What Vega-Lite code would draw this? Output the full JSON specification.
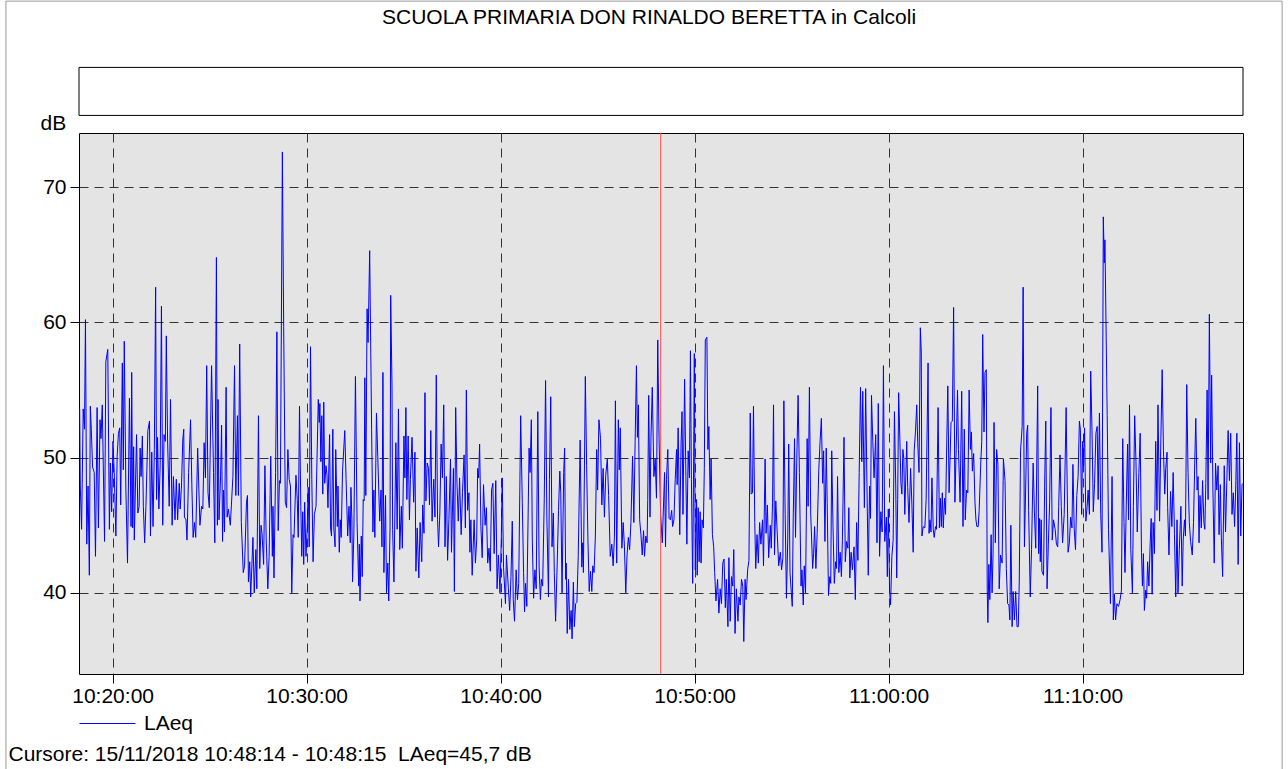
{
"$schema": "https://vega.github.io/schema/vega-lite/v6.json",
"width": 1164, "height": 541,
"autosize": {"type": "none"},
"padding": {"left": 79, "top": 133, "right": 45, "bottom": 95},
"background": "#ffffff",
"config": {"font": "Liberation Sans", "view": {"fill": "#e4e4e4", "stroke": "#000000", "strokeWidth": 1}},
"data": {"values": [
{"t":"2018-11-15T10:18:18","v":53.6},{"t":"2018-11-15T10:18:20","v":47.9},{"t":"2018-11-15T10:18:24","v":44.7},{"t":"2018-11-15T10:18:29","v":53.6},{"t":"2018-11-15T10:18:33","v":52.1},{"t":"2018-11-15T10:18:36","v":60.2},{"t":"2018-11-15T10:18:40","v":43.6},{"t":"2018-11-15T10:18:44","v":47.9},{"t":"2018-11-15T10:18:48","v":41.3},{"t":"2018-11-15T10:18:51","v":53.8},{"t":"2018-11-15T10:18:54","v":52.1},{"t":"2018-11-15T10:18:58","v":49.3},{"t":"2018-11-15T10:19:03","v":48.9},{"t":"2018-11-15T10:19:07","v":42.7},{"t":"2018-11-15T10:19:12","v":53.7},{"t":"2018-11-15T10:19:16","v":44.8},{"t":"2018-11-15T10:19:21","v":52.8},{"t":"2018-11-15T10:19:24","v":51.4},{"t":"2018-11-15T10:19:28","v":53.9},{"t":"2018-11-15T10:19:35","v":43.8},{"t":"2018-11-15T10:19:39","v":57.1},{"t":"2018-11-15T10:19:45","v":58.0},{"t":"2018-11-15T10:19:50","v":44.7},{"t":"2018-11-15T10:19:53","v":49.6},{"t":"2018-11-15T10:19:57","v":46.0},{"t":"2018-11-15T10:20:01","v":51.2},{"t":"2018-11-15T10:20:05","v":48.9},{"t":"2018-11-15T10:20:10","v":44.2},{"t":"2018-11-15T10:20:14","v":50.1},{"t":"2018-11-15T10:20:18","v":51.8},{"t":"2018-11-15T10:20:22","v":52.2},{"t":"2018-11-15T10:20:25","v":46.5},{"t":"2018-11-15T10:20:30","v":57.0},{"t":"2018-11-15T10:20:33","v":49.1},{"t":"2018-11-15T10:20:36","v":58.6},{"t":"2018-11-15T10:20:41","v":47.6},{"t":"2018-11-15T10:20:46","v":42.2},{"t":"2018-11-15T10:20:52","v":54.4},{"t":"2018-11-15T10:20:57","v":44.9},{"t":"2018-11-15T10:20:59","v":56.3},{"t":"2018-11-15T10:21:02","v":44.8},{"t":"2018-11-15T10:21:05","v":50.8},{"t":"2018-11-15T10:21:07","v":43.9},{"t":"2018-11-15T10:21:14","v":51.7},{"t":"2018-11-15T10:21:18","v":45.9},{"t":"2018-11-15T10:21:22","v":46.4},{"t":"2018-11-15T10:21:25","v":50.7},{"t":"2018-11-15T10:21:28","v":48.6},{"t":"2018-11-15T10:21:32","v":51.6},{"t":"2018-11-15T10:21:35","v":46.4},{"t":"2018-11-15T10:21:39","v":43.7},{"t":"2018-11-15T10:21:43","v":46.4},{"t":"2018-11-15T10:21:49","v":52.0},{"t":"2018-11-15T10:21:54","v":52.7},{"t":"2018-11-15T10:21:57","v":44.2},{"t":"2018-11-15T10:22:01","v":50.4},{"t":"2018-11-15T10:22:05","v":44.9},{"t":"2018-11-15T10:22:09","v":50.6},{"t":"2018-11-15T10:22:13","v":62.6},{"t":"2018-11-15T10:22:16","v":46.9},{"t":"2018-11-15T10:22:19","v":51.5},{"t":"2018-11-15T10:22:23","v":46.2},{"t":"2018-11-15T10:22:27","v":49.4},{"t":"2018-11-15T10:22:31","v":61.2},{"t":"2018-11-15T10:22:35","v":45.0},{"t":"2018-11-15T10:22:39","v":51.7},{"t":"2018-11-15T10:22:43","v":51.2},{"t":"2018-11-15T10:22:46","v":59.0},{"t":"2018-11-15T10:22:50","v":51.3},{"t":"2018-11-15T10:22:55","v":46.4},{"t":"2018-11-15T10:22:59","v":54.3},{"t":"2018-11-15T10:23:04","v":45.0},{"t":"2018-11-15T10:23:08","v":48.6},{"t":"2018-11-15T10:23:13","v":45.4},{"t":"2018-11-15T10:23:17","v":48.4},{"t":"2018-11-15T10:23:21","v":45.4},{"t":"2018-11-15T10:23:26","v":48.1},{"t":"2018-11-15T10:23:29","v":46.2},{"t":"2018-11-15T10:23:33","v":47.9},{"t":"2018-11-15T10:23:37","v":51.3},{"t":"2018-11-15T10:23:40","v":52.1},{"t":"2018-11-15T10:23:42","v":45.6},{"t":"2018-11-15T10:23:47","v":45.4},{"t":"2018-11-15T10:23:50","v":43.9},{"t":"2018-11-15T10:23:55","v":48.9},{"t":"2018-11-15T10:24:01","v":52.8},{"t":"2018-11-15T10:24:05","v":48.0},{"t":"2018-11-15T10:24:09","v":44.1},{"t":"2018-11-15T10:24:13","v":45.2},{"t":"2018-11-15T10:24:17","v":44.1},{"t":"2018-11-15T10:24:23","v":50.7},
{"t":"2018-11-15T10:24:30","v":45.0},{"t":"2018-11-15T10:24:35","v":46.4},{"t":"2018-11-15T10:24:39","v":46.2},{"t":"2018-11-15T10:24:43","v":51.1},{"t":"2018-11-15T10:24:47","v":48.5},{"t":"2018-11-15T10:24:51","v":56.8},{"t":"2018-11-15T10:24:55","v":47.4},{"t":"2018-11-15T10:24:59","v":46.3},{"t":"2018-11-15T10:25:06","v":56.8},{"t":"2018-11-15T10:25:12","v":48.9},{"t":"2018-11-15T10:25:16","v":43.7},{"t":"2018-11-15T10:25:21","v":64.8},{"t":"2018-11-15T10:25:24","v":45.0},{"t":"2018-11-15T10:25:26","v":54.3},{"t":"2018-11-15T10:25:29","v":45.4},{"t":"2018-11-15T10:25:34","v":48.7},{"t":"2018-11-15T10:25:37","v":52.4},{"t":"2018-11-15T10:25:40","v":43.8},{"t":"2018-11-15T10:25:43","v":47.6},{"t":"2018-11-15T10:25:46","v":44.5},{"t":"2018-11-15T10:25:51","v":55.2},{"t":"2018-11-15T10:25:54","v":45.6},{"t":"2018-11-15T10:25:58","v":46.2},{"t":"2018-11-15T10:26:04","v":45.0},{"t":"2018-11-15T10:26:08","v":46.8},{"t":"2018-11-15T10:26:12","v":48.6},{"t":"2018-11-15T10:26:17","v":56.8},{"t":"2018-11-15T10:26:21","v":47.2},{"t":"2018-11-15T10:26:26","v":53.1},{"t":"2018-11-15T10:26:29","v":47.2},{"t":"2018-11-15T10:26:33","v":58.4},{"t":"2018-11-15T10:26:38","v":45.2},{"t":"2018-11-15T10:26:44","v":41.5},{"t":"2018-11-15T10:26:48","v":42.0},{"t":"2018-11-15T10:26:54","v":46.7},{"t":"2018-11-15T10:26:57","v":47.2},{"t":"2018-11-15T10:27:00","v":40.8},{"t":"2018-11-15T10:27:04","v":42.3},{"t":"2018-11-15T10:27:07","v":39.7},{"t":"2018-11-15T10:27:14","v":44.1},{"t":"2018-11-15T10:27:18","v":40.0},{"t":"2018-11-15T10:27:23","v":43.2},{"t":"2018-11-15T10:27:26","v":40.3},{"t":"2018-11-15T10:27:31","v":53.1},{"t":"2018-11-15T10:27:35","v":41.8},{"t":"2018-11-15T10:27:39","v":45.0},{"t":"2018-11-15T10:27:42","v":44.4},{"t":"2018-11-15T10:27:47","v":42.1},{"t":"2018-11-15T10:27:51","v":49.4},{"t":"2018-11-15T10:27:55","v":43.9},{"t":"2018-11-15T10:28:00","v":40.3},{"t":"2018-11-15T10:28:04","v":42.7},{"t":"2018-11-15T10:28:09","v":50.1},{"t":"2018-11-15T10:28:14","v":42.7},{"t":"2018-11-15T10:28:16","v":46.4},{"t":"2018-11-15T10:28:19","v":41.1},{"t":"2018-11-15T10:28:24","v":48.9},{"t":"2018-11-15T10:28:28","v":59.3},{"t":"2018-11-15T10:28:32","v":44.6},{"t":"2018-11-15T10:28:36","v":48.3},{"t":"2018-11-15T10:28:39","v":48.1},{"t":"2018-11-15T10:28:45","v":72.6},{"t":"2018-11-15T10:28:49","v":59.7},{"t":"2018-11-15T10:28:54","v":46.7},{"t":"2018-11-15T10:28:58","v":46.3},{"t":"2018-11-15T10:29:02","v":50.6},{"t":"2018-11-15T10:29:06","v":48.4},{"t":"2018-11-15T10:29:10","v":47.9},{"t":"2018-11-15T10:29:14","v":40.0},{"t":"2018-11-15T10:29:18","v":44.3},{"t":"2018-11-15T10:29:21","v":44.1},{"t":"2018-11-15T10:29:27","v":48.7},{"t":"2018-11-15T10:29:31","v":46.9},{"t":"2018-11-15T10:29:34","v":44.1},{"t":"2018-11-15T10:29:38","v":53.8},{"t":"2018-11-15T10:29:42","v":46.4},{"t":"2018-11-15T10:29:45","v":42.7},{"t":"2018-11-15T10:29:48","v":46.0},{"t":"2018-11-15T10:29:51","v":42.1},{"t":"2018-11-15T10:29:54","v":46.7},{"t":"2018-11-15T10:29:58","v":42.7},{"t":"2018-11-15T10:30:02","v":44.9},{"t":"2018-11-15T10:30:05","v":47.8},{"t":"2018-11-15T10:30:08","v":43.4},{"t":"2018-11-15T10:30:12","v":58.2},{"t":"2018-11-15T10:30:16","v":48.4},{"t":"2018-11-15T10:30:20","v":42.3},{"t":"2018-11-15T10:30:24","v":45.8},
{"t":"2018-11-15T10:30:29","v":46.4},{"t":"2018-11-15T10:30:36","v":54.3},{"t":"2018-11-15T10:30:39","v":52.6},{"t":"2018-11-15T10:30:41","v":54.0},{"t":"2018-11-15T10:30:44","v":49.7},{"t":"2018-11-15T10:30:47","v":53.1},{"t":"2018-11-15T10:30:50","v":47.3},{"t":"2018-11-15T10:30:53","v":54.1},{"t":"2018-11-15T10:30:56","v":48.1},{"t":"2018-11-15T10:31:00","v":49.4},{"t":"2018-11-15T10:31:03","v":48.7},{"t":"2018-11-15T10:31:06","v":46.3},{"t":"2018-11-15T10:31:11","v":51.7},{"t":"2018-11-15T10:31:14","v":44.8},{"t":"2018-11-15T10:31:17","v":44.2},{"t":"2018-11-15T10:31:21","v":52.1},{"t":"2018-11-15T10:31:24","v":44.8},{"t":"2018-11-15T10:31:28","v":43.4},{"t":"2018-11-15T10:31:30","v":50.6},{"t":"2018-11-15T10:31:35","v":44.9},{"t":"2018-11-15T10:31:37","v":47.9},{"t":"2018-11-15T10:31:41","v":43.0},{"t":"2018-11-15T10:31:44","v":45.4},{"t":"2018-11-15T10:31:47","v":44.1},{"t":"2018-11-15T10:31:51","v":49.0},{"t":"2018-11-15T10:31:58","v":52.0},{"t":"2018-11-15T10:32:02","v":48.4},{"t":"2018-11-15T10:32:07","v":44.2},{"t":"2018-11-15T10:32:11","v":46.4},{"t":"2018-11-15T10:32:15","v":43.7},{"t":"2018-11-15T10:32:17","v":47.8},{"t":"2018-11-15T10:32:20","v":45.4},{"t":"2018-11-15T10:32:22","v":40.8},{"t":"2018-11-15T10:32:26","v":44.2},{"t":"2018-11-15T10:32:31","v":56.0},{"t":"2018-11-15T10:32:36","v":45.2},{"t":"2018-11-15T10:32:41","v":40.5},{"t":"2018-11-15T10:32:43","v":43.6},{"t":"2018-11-15T10:32:45","v":39.4},{"t":"2018-11-15T10:32:49","v":44.2},{"t":"2018-11-15T10:32:52","v":41.2},{"t":"2018-11-15T10:32:55","v":46.9},{"t":"2018-11-15T10:32:58","v":46.8},{"t":"2018-11-15T10:33:00","v":55.9},{"t":"2018-11-15T10:33:03","v":47.2},{"t":"2018-11-15T10:33:07","v":61.0},{"t":"2018-11-15T10:33:10","v":58.5},{"t":"2018-11-15T10:33:15","v":65.3},{"t":"2018-11-15T10:33:21","v":52.1},{"t":"2018-11-15T10:33:25","v":44.5},{"t":"2018-11-15T10:33:28","v":47.6},{"t":"2018-11-15T10:33:31","v":44.1},{"t":"2018-11-15T10:33:36","v":53.3},{"t":"2018-11-15T10:33:40","v":50.1},{"t":"2018-11-15T10:33:46","v":45.3},{"t":"2018-11-15T10:33:50","v":47.6},{"t":"2018-11-15T10:33:53","v":43.4},{"t":"2018-11-15T10:33:56","v":56.3},{"t":"2018-11-15T10:33:59","v":41.5},{"t":"2018-11-15T10:34:04","v":47.2},{"t":"2018-11-15T10:34:07","v":40.0},{"t":"2018-11-15T10:34:11","v":42.2},{"t":"2018-11-15T10:34:14","v":39.4},{"t":"2018-11-15T10:34:18","v":44.9},{"t":"2018-11-15T10:34:20","v":62.0},{"t":"2018-11-15T10:34:24","v":55.3},{"t":"2018-11-15T10:34:26","v":44.7},{"t":"2018-11-15T10:34:30","v":40.8},{"t":"2018-11-15T10:34:36","v":51.1},{"t":"2018-11-15T10:34:40","v":44.7},{"t":"2018-11-15T10:34:44","v":53.6},{"t":"2018-11-15T10:34:48","v":43.2},{"t":"2018-11-15T10:34:53","v":46.4},{"t":"2018-11-15T10:34:56","v":43.3},{"t":"2018-11-15T10:35:01","v":51.6},{"t":"2018-11-15T10:35:04","v":48.5},{"t":"2018-11-15T10:35:07","v":53.7},{"t":"2018-11-15T10:35:10","v":46.9},{"t":"2018-11-15T10:35:14","v":51.6},{"t":"2018-11-15T10:35:18","v":45.4},{"t":"2018-11-15T10:35:21","v":48.4},{"t":"2018-11-15T10:35:26","v":51.5},{"t":"2018-11-15T10:35:31","v":46.7},{"t":"2018-11-15T10:35:35","v":50.4},{"t":"2018-11-15T10:35:38","v":41.6},{"t":"2018-11-15T10:35:42","v":44.8},{"t":"2018-11-15T10:35:47","v":41.1},{"t":"2018-11-15T10:35:51","v":45.2},{"t":"2018-11-15T10:35:56","v":42.3},{"t":"2018-11-15T10:35:59","v":46.5},{"t":"2018-11-15T10:36:03","v":44.4},{"t":"2018-11-15T10:36:06","v":54.8},{"t":"2018-11-15T10:36:09","v":46.8},{"t":"2018-11-15T10:36:13","v":49.6},{"t":"2018-11-15T10:36:17","v":49.2},{"t":"2018-11-15T10:36:20","v":46.5},{"t":"2018-11-15T10:36:24","v":52.0},
{"t":"2018-11-15T10:36:28","v":45.3},{"t":"2018-11-15T10:36:33","v":48.4},{"t":"2018-11-15T10:36:37","v":45.6},{"t":"2018-11-15T10:36:41","v":56.1},{"t":"2018-11-15T10:36:45","v":45.4},{"t":"2018-11-15T10:36:48","v":43.4},{"t":"2018-11-15T10:36:52","v":45.9},{"t":"2018-11-15T10:36:56","v":51.0},{"t":"2018-11-15T10:37:00","v":48.5},{"t":"2018-11-15T10:37:04","v":53.9},{"t":"2018-11-15T10:37:08","v":43.4},{"t":"2018-11-15T10:37:12","v":48.6},{"t":"2018-11-15T10:37:16","v":42.4},{"t":"2018-11-15T10:37:20","v":45.4},{"t":"2018-11-15T10:37:25","v":49.9},{"t":"2018-11-15T10:37:28","v":43.0},{"t":"2018-11-15T10:37:34","v":49.2},{"t":"2018-11-15T10:37:37","v":40.1},{"t":"2018-11-15T10:37:41","v":53.7},{"t":"2018-11-15T10:37:45","v":48.1},{"t":"2018-11-15T10:37:49","v":45.3},{"t":"2018-11-15T10:37:53","v":48.5},{"t":"2018-11-15T10:37:58","v":44.3},{"t":"2018-11-15T10:38:02","v":47.4},{"t":"2018-11-15T10:38:07","v":50.2},{"t":"2018-11-15T10:38:11","v":44.8},{"t":"2018-11-15T10:38:14","v":55.0},{"t":"2018-11-15T10:38:18","v":46.1},{"t":"2018-11-15T10:38:22","v":47.4},{"t":"2018-11-15T10:38:25","v":43.0},{"t":"2018-11-15T10:38:28","v":45.4},{"t":"2018-11-15T10:38:32","v":41.3},{"t":"2018-11-15T10:38:38","v":45.4},{"t":"2018-11-15T10:38:42","v":42.2},{"t":"2018-11-15T10:38:46","v":43.9},{"t":"2018-11-15T10:38:49","v":49.2},{"t":"2018-11-15T10:38:52","v":48.5},{"t":"2018-11-15T10:38:55","v":51.0},{"t":"2018-11-15T10:38:59","v":44.9},{"t":"2018-11-15T10:39:03","v":42.6},{"t":"2018-11-15T10:39:07","v":48.0},{"t":"2018-11-15T10:39:12","v":45.0},{"t":"2018-11-15T10:39:16","v":46.3},{"t":"2018-11-15T10:39:20","v":42.2},{"t":"2018-11-15T10:39:24","v":43.3},{"t":"2018-11-15T10:39:28","v":41.6},{"t":"2018-11-15T10:39:32","v":47.6},{"t":"2018-11-15T10:39:36","v":48.1},{"t":"2018-11-15T10:39:40","v":42.9},{"t":"2018-11-15T10:39:45","v":48.3},{"t":"2018-11-15T10:39:49","v":40.3},{"t":"2018-11-15T10:39:53","v":42.8},{"t":"2018-11-15T10:39:58","v":40.0},{"t":"2018-11-15T10:40:02","v":43.9},{"t":"2018-11-15T10:40:05","v":48.5},{"t":"2018-11-15T10:40:09","v":41.9},{"t":"2018-11-15T10:40:15","v":39.2},{"t":"2018-11-15T10:40:18","v":42.8},{"t":"2018-11-15T10:40:24","v":40.3},{"t":"2018-11-15T10:40:28","v":38.7},{"t":"2018-11-15T10:40:32","v":41.2},{"t":"2018-11-15T10:40:36","v":45.3},{"t":"2018-11-15T10:40:39","v":39.5},{"t":"2018-11-15T10:40:43","v":37.9},{"t":"2018-11-15T10:40:48","v":41.7},{"t":"2018-11-15T10:40:52","v":39.5},{"t":"2018-11-15T10:40:56","v":40.7},{"t":"2018-11-15T10:41:02","v":53.1},{"t":"2018-11-15T10:41:07","v":46.7},{"t":"2018-11-15T10:41:11","v":41.5},{"t":"2018-11-15T10:41:14","v":38.6},{"t":"2018-11-15T10:41:17","v":40.7},{"t":"2018-11-15T10:41:21","v":39.0},{"t":"2018-11-15T10:41:28","v":50.7},{"t":"2018-11-15T10:41:31","v":48.9},{"t":"2018-11-15T10:41:35","v":52.8},{"t":"2018-11-15T10:41:38","v":43.9},{"t":"2018-11-15T10:41:42","v":39.6},{"t":"2018-11-15T10:41:46","v":41.7},{"t":"2018-11-15T10:41:50","v":40.3},{"t":"2018-11-15T10:41:55","v":53.4},{"t":"2018-11-15T10:41:59","v":41.9},{"t":"2018-11-15T10:42:03","v":39.5},{"t":"2018-11-15T10:42:06","v":41.0},{"t":"2018-11-15T10:42:10","v":40.5},{"t":"2018-11-15T10:42:15","v":47.0},{"t":"2018-11-15T10:42:19","v":55.7},{"t":"2018-11-15T10:42:23","v":45.6},
{"t":"2018-11-15T10:42:28","v":39.7},{"t":"2018-11-15T10:42:31","v":48.4},{"t":"2018-11-15T10:42:35","v":54.5},{"t":"2018-11-15T10:42:39","v":43.4},{"t":"2018-11-15T10:42:43","v":45.9},{"t":"2018-11-15T10:42:46","v":41.5},{"t":"2018-11-15T10:42:50","v":37.9},{"t":"2018-11-15T10:42:55","v":42.2},{"t":"2018-11-15T10:42:59","v":46.1},{"t":"2018-11-15T10:43:03","v":49.0},{"t":"2018-11-15T10:43:06","v":47.4},{"t":"2018-11-15T10:43:10","v":40.0},{"t":"2018-11-15T10:43:15","v":48.9},{"t":"2018-11-15T10:43:18","v":50.7},{"t":"2018-11-15T10:43:21","v":41.0},{"t":"2018-11-15T10:43:23","v":42.2},{"t":"2018-11-15T10:43:26","v":37.0},{"t":"2018-11-15T10:43:30","v":41.0},{"t":"2018-11-15T10:43:34","v":37.3},{"t":"2018-11-15T10:43:38","v":38.7},{"t":"2018-11-15T10:43:41","v":36.6},{"t":"2018-11-15T10:43:45","v":40.8},{"t":"2018-11-15T10:43:48","v":37.5},{"t":"2018-11-15T10:43:52","v":39.2},{"t":"2018-11-15T10:43:56","v":39.3},{"t":"2018-11-15T10:44:00","v":42.7},{"t":"2018-11-15T10:44:06","v":51.3},{"t":"2018-11-15T10:44:11","v":41.9},{"t":"2018-11-15T10:44:14","v":43.7},{"t":"2018-11-15T10:44:16","v":41.5},{"t":"2018-11-15T10:44:22","v":56.0},{"t":"2018-11-15T10:44:26","v":49.4},{"t":"2018-11-15T10:44:30","v":43.9},{"t":"2018-11-15T10:44:34","v":40.1},{"t":"2018-11-15T10:44:38","v":41.6},{"t":"2018-11-15T10:44:42","v":40.1},{"t":"2018-11-15T10:44:45","v":42.0},{"t":"2018-11-15T10:44:49","v":41.5},{"t":"2018-11-15T10:44:53","v":44.2},{"t":"2018-11-15T10:44:57","v":50.6},{"t":"2018-11-15T10:45:00","v":47.6},{"t":"2018-11-15T10:45:04","v":52.8},{"t":"2018-11-15T10:45:09","v":51.4},{"t":"2018-11-15T10:45:13","v":46.5},{"t":"2018-11-15T10:45:17","v":49.2},{"t":"2018-11-15T10:45:21","v":45.6},{"t":"2018-11-15T10:45:25","v":48.7},{"t":"2018-11-15T10:45:30","v":49.9},{"t":"2018-11-15T10:45:34","v":47.2},{"t":"2018-11-15T10:45:39","v":42.7},{"t":"2018-11-15T10:45:44","v":43.6},{"t":"2018-11-15T10:45:48","v":42.0},{"t":"2018-11-15T10:45:52","v":44.2},{"t":"2018-11-15T10:45:55","v":54.2},{"t":"2018-11-15T10:45:59","v":42.2},{"t":"2018-11-15T10:46:04","v":52.8},{"t":"2018-11-15T10:46:07","v":49.1},{"t":"2018-11-15T10:46:10","v":52.2},{"t":"2018-11-15T10:46:15","v":43.3},{"t":"2018-11-15T10:46:19","v":45.2},{"t":"2018-11-15T10:46:23","v":43.4},{"t":"2018-11-15T10:46:27","v":40.0},{"t":"2018-11-15T10:46:31","v":42.8},{"t":"2018-11-15T10:46:35","v":44.1},{"t":"2018-11-15T10:46:39","v":43.2},{"t":"2018-11-15T10:46:43","v":45.2},{"t":"2018-11-15T10:46:48","v":50.1},{"t":"2018-11-15T10:46:52","v":45.2},{"t":"2018-11-15T10:46:56","v":51.2},{"t":"2018-11-15T10:47:00","v":56.8},{"t":"2018-11-15T10:47:03","v":51.5},{"t":"2018-11-15T10:47:06","v":53.9},{"t":"2018-11-15T10:47:10","v":45.4},{"t":"2018-11-15T10:47:14","v":44.3},{"t":"2018-11-15T10:47:18","v":42.8},{"t":"2018-11-15T10:47:22","v":44.6},{"t":"2018-11-15T10:47:25","v":42.7},{"t":"2018-11-15T10:47:29","v":44.2},{"t":"2018-11-15T10:47:33","v":43.7},{"t":"2018-11-15T10:47:35","v":46.9},{"t":"2018-11-15T10:47:38","v":54.6},{"t":"2018-11-15T10:47:42","v":45.6},{"t":"2018-11-15T10:47:45","v":51.5},{"t":"2018-11-15T10:47:49","v":55.2},{"t":"2018-11-15T10:47:54","v":48.6},{"t":"2018-11-15T10:47:58","v":49.9},{"t":"2018-11-15T10:48:02","v":47.0},{"t":"2018-11-15T10:48:06","v":58.7},{"t":"2018-11-15T10:48:10","v":51.4},{"t":"2018-11-15T10:48:15","v":45.7},{"t":"2018-11-15T10:48:20","v":43.7},
{"t":"2018-11-15T10:48:27","v":48.9},{"t":"2018-11-15T10:48:30","v":43.4},{"t":"2018-11-15T10:48:33","v":48.4},{"t":"2018-11-15T10:48:37","v":50.6},{"t":"2018-11-15T10:48:41","v":45.5},{"t":"2018-11-15T10:48:45","v":45.4},{"t":"2018-11-15T10:48:49","v":46.1},{"t":"2018-11-15T10:48:52","v":44.9},{"t":"2018-11-15T10:48:56","v":45.4},{"t":"2018-11-15T10:49:00","v":48.4},{"t":"2018-11-15T10:49:04","v":50.6},{"t":"2018-11-15T10:49:06","v":48.0},{"t":"2018-11-15T10:49:09","v":52.2},{"t":"2018-11-15T10:49:14","v":44.3},{"t":"2018-11-15T10:49:18","v":51.0},{"t":"2018-11-15T10:49:21","v":53.4},{"t":"2018-11-15T10:49:24","v":45.8},{"t":"2018-11-15T10:49:29","v":55.8},{"t":"2018-11-15T10:49:33","v":48.6},{"t":"2018-11-15T10:49:36","v":43.6},{"t":"2018-11-15T10:49:40","v":50.5},{"t":"2018-11-15T10:49:44","v":48.5},{"t":"2018-11-15T10:49:47","v":57.9},{"t":"2018-11-15T10:49:50","v":48.4},{"t":"2018-11-15T10:49:54","v":40.7},{"t":"2018-11-15T10:49:57","v":50.1},{"t":"2018-11-15T10:49:59","v":57.7},{"t":"2018-11-15T10:50:02","v":41.7},{"t":"2018-11-15T10:50:06","v":46.9},{"t":"2018-11-15T10:50:08","v":41.3},{"t":"2018-11-15T10:50:11","v":46.3},{"t":"2018-11-15T10:50:14","v":42.3},{"t":"2018-11-15T10:50:17","v":46.0},{"t":"2018-11-15T10:50:20","v":42.2},{"t":"2018-11-15T10:50:23","v":45.4},{"t":"2018-11-15T10:50:27","v":44.8},{"t":"2018-11-15T10:50:30","v":49.2},{"t":"2018-11-15T10:50:33","v":58.7},{"t":"2018-11-15T10:50:38","v":58.9},{"t":"2018-11-15T10:50:41","v":50.6},{"t":"2018-11-15T10:50:44","v":52.3},{"t":"2018-11-15T10:50:48","v":46.9},{"t":"2018-11-15T10:50:51","v":49.9},{"t":"2018-11-15T10:50:55","v":44.3},{"t":"2018-11-15T10:50:59","v":43.4},{"t":"2018-11-15T10:51:02","v":41.5},{"t":"2018-11-15T10:51:06","v":39.4},{"t":"2018-11-15T10:51:11","v":41.0},{"t":"2018-11-15T10:51:15","v":38.5},{"t":"2018-11-15T10:51:19","v":40.3},{"t":"2018-11-15T10:51:23","v":39.2},{"t":"2018-11-15T10:51:27","v":42.2},{"t":"2018-11-15T10:51:31","v":42.5},{"t":"2018-11-15T10:51:35","v":38.9},{"t":"2018-11-15T10:51:38","v":41.0},{"t":"2018-11-15T10:51:43","v":37.5},{"t":"2018-11-15T10:51:46","v":42.6},{"t":"2018-11-15T10:51:50","v":37.9},{"t":"2018-11-15T10:51:54","v":41.2},{"t":"2018-11-15T10:51:58","v":40.5},{"t":"2018-11-15T10:52:01","v":43.2},{"t":"2018-11-15T10:52:05","v":37.0},{"t":"2018-11-15T10:52:09","v":40.3},{"t":"2018-11-15T10:52:14","v":37.9},{"t":"2018-11-15T10:52:17","v":39.7},{"t":"2018-11-15T10:52:21","v":39.1},{"t":"2018-11-15T10:52:25","v":41.0},{"t":"2018-11-15T10:52:29","v":40.5},{"t":"2018-11-15T10:52:32","v":36.4},{"t":"2018-11-15T10:52:36","v":41.0},{"t":"2018-11-15T10:52:39","v":39.5},{"t":"2018-11-15T10:52:44","v":41.7},{"t":"2018-11-15T10:52:48","v":42.4},{"t":"2018-11-15T10:52:52","v":53.3},{"t":"2018-11-15T10:52:55","v":47.3},{"t":"2018-11-15T10:52:59","v":47.4},{"t":"2018-11-15T10:53:02","v":53.8},{"t":"2018-11-15T10:53:06","v":45.2},{"t":"2018-11-15T10:53:09","v":41.8},{"t":"2018-11-15T10:53:13","v":44.3},{"t":"2018-11-15T10:53:17","v":42.2},{"t":"2018-11-15T10:53:21","v":45.2},{"t":"2018-11-15T10:53:25","v":43.6},{"t":"2018-11-15T10:53:30","v":45.4},{"t":"2018-11-15T10:53:33","v":42.0},{"t":"2018-11-15T10:53:38","v":49.9},{"t":"2018-11-15T10:53:41","v":44.4},{"t":"2018-11-15T10:53:45","v":46.5},{"t":"2018-11-15T10:53:49","v":42.6},{"t":"2018-11-15T10:53:54","v":45.0},{"t":"2018-11-15T10:53:57","v":43.3},{"t":"2018-11-15T10:54:01","v":46.7},{"t":"2018-11-15T10:54:04","v":53.9},{"t":"2018-11-15T10:54:07","v":42.8},{"t":"2018-11-15T10:54:11","v":46.8},
{"t":"2018-11-15T10:54:20","v":42.0},{"t":"2018-11-15T10:54:25","v":43.0},{"t":"2018-11-15T10:54:29","v":41.7},{"t":"2018-11-15T10:54:33","v":42.6},{"t":"2018-11-15T10:54:36","v":54.2},{"t":"2018-11-15T10:54:40","v":45.8},{"t":"2018-11-15T10:54:44","v":39.6},{"t":"2018-11-15T10:54:48","v":43.9},{"t":"2018-11-15T10:54:51","v":51.0},{"t":"2018-11-15T10:54:55","v":41.5},{"t":"2018-11-15T10:54:59","v":40.0},{"t":"2018-11-15T10:55:02","v":39.0},{"t":"2018-11-15T10:55:05","v":45.6},{"t":"2018-11-15T10:55:09","v":51.4},{"t":"2018-11-15T10:55:12","v":44.1},{"t":"2018-11-15T10:55:16","v":49.9},{"t":"2018-11-15T10:55:20","v":54.6},{"t":"2018-11-15T10:55:24","v":48.9},{"t":"2018-11-15T10:55:29","v":40.5},{"t":"2018-11-15T10:55:32","v":41.7},{"t":"2018-11-15T10:55:36","v":39.1},{"t":"2018-11-15T10:55:39","v":42.0},{"t":"2018-11-15T10:55:43","v":40.0},{"t":"2018-11-15T10:55:48","v":51.4},{"t":"2018-11-15T10:55:51","v":46.4},{"t":"2018-11-15T10:55:55","v":55.2},{"t":"2018-11-15T10:55:59","v":45.9},{"t":"2018-11-15T10:56:05","v":41.8},{"t":"2018-11-15T10:56:08","v":42.9},{"t":"2018-11-15T10:56:11","v":44.9},{"t":"2018-11-15T10:56:15","v":41.8},{"t":"2018-11-15T10:56:19","v":44.4},{"t":"2018-11-15T10:56:24","v":49.1},{"t":"2018-11-15T10:56:28","v":51.2},{"t":"2018-11-15T10:56:32","v":52.9},{"t":"2018-11-15T10:56:36","v":48.1},{"t":"2018-11-15T10:56:39","v":50.5},{"t":"2018-11-15T10:56:43","v":43.8},{"t":"2018-11-15T10:56:47","v":50.7},{"t":"2018-11-15T10:56:50","v":46.7},{"t":"2018-11-15T10:56:54","v":39.8},{"t":"2018-11-15T10:56:58","v":41.2},{"t":"2018-11-15T10:57:01","v":40.7},{"t":"2018-11-15T10:57:04","v":50.5},{"t":"2018-11-15T10:57:08","v":44.9},{"t":"2018-11-15T10:57:12","v":40.7},{"t":"2018-11-15T10:57:16","v":42.3},{"t":"2018-11-15T10:57:19","v":41.8},{"t":"2018-11-15T10:57:22","v":48.6},{"t":"2018-11-15T10:57:26","v":41.5},{"t":"2018-11-15T10:57:30","v":43.0},{"t":"2018-11-15T10:57:34","v":41.2},{"t":"2018-11-15T10:57:37","v":43.9},{"t":"2018-11-15T10:57:42","v":51.5},{"t":"2018-11-15T10:57:46","v":42.3},{"t":"2018-11-15T10:57:50","v":43.8},{"t":"2018-11-15T10:57:54","v":43.3},{"t":"2018-11-15T10:57:57","v":46.3},{"t":"2018-11-15T10:58:00","v":41.1},{"t":"2018-11-15T10:58:04","v":43.0},{"t":"2018-11-15T10:58:08","v":41.7},{"t":"2018-11-15T10:58:13","v":43.4},{"t":"2018-11-15T10:58:17","v":39.5},{"t":"2018-11-15T10:58:21","v":45.2},{"t":"2018-11-15T10:58:25","v":42.4},{"t":"2018-11-15T10:58:29","v":48.9},{"t":"2018-11-15T10:58:33","v":55.2},{"t":"2018-11-15T10:58:37","v":49.7},{"t":"2018-11-15T10:58:40","v":54.9},{"t":"2018-11-15T10:58:45","v":46.3},{"t":"2018-11-15T10:58:49","v":55.1},{"t":"2018-11-15T10:58:53","v":47.9},{"t":"2018-11-15T10:58:57","v":41.3},{"t":"2018-11-15T10:59:01","v":47.9},{"t":"2018-11-15T10:59:04","v":45.5},{"t":"2018-11-15T10:59:07","v":54.6},{"t":"2018-11-15T10:59:11","v":51.2},{"t":"2018-11-15T10:59:15","v":48.5},{"t":"2018-11-15T10:59:20","v":51.7},{"t":"2018-11-15T10:59:24","v":43.7},{"t":"2018-11-15T10:59:28","v":54.0},{"t":"2018-11-15T10:59:32","v":42.7},{"t":"2018-11-15T10:59:36","v":46.0},{"t":"2018-11-15T10:59:40","v":44.5},{"t":"2018-11-15T10:59:44","v":56.8},{"t":"2018-11-15T10:59:48","v":43.8},{"t":"2018-11-15T10:59:53","v":45.6},{"t":"2018-11-15T10:59:56","v":41.2},{"t":"2018-11-15T10:59:59","v":46.2},{"t":"2018-11-15T11:00:03","v":40.1},{"t":"2018-11-15T11:00:06","v":39.1},{"t":"2018-11-15T11:00:10","v":42.7},{"t":"2018-11-15T11:00:14","v":43.9},{"t":"2018-11-15T11:00:18","v":53.4},
{"t":"2018-11-15T11:00:22","v":47.9},{"t":"2018-11-15T11:00:25","v":41.1},{"t":"2018-11-15T11:00:28","v":46.9},{"t":"2018-11-15T11:00:31","v":54.8},{"t":"2018-11-15T11:00:35","v":51.1},{"t":"2018-11-15T11:00:38","v":48.1},{"t":"2018-11-15T11:00:41","v":47.3},{"t":"2018-11-15T11:00:44","v":50.6},{"t":"2018-11-15T11:00:47","v":49.9},{"t":"2018-11-15T11:00:50","v":45.8},{"t":"2018-11-15T11:00:56","v":51.2},{"t":"2018-11-15T11:00:59","v":47.8},{"t":"2018-11-15T11:01:03","v":45.2},{"t":"2018-11-15T11:01:08","v":49.2},{"t":"2018-11-15T11:01:12","v":46.5},{"t":"2018-11-15T11:01:16","v":43.0},{"t":"2018-11-15T11:01:19","v":50.5},{"t":"2018-11-15T11:01:23","v":51.9},{"t":"2018-11-15T11:01:27","v":53.9},{"t":"2018-11-15T11:01:30","v":51.1},{"t":"2018-11-15T11:01:34","v":48.9},{"t":"2018-11-15T11:01:38","v":59.6},{"t":"2018-11-15T11:01:41","v":57.8},{"t":"2018-11-15T11:01:43","v":44.2},{"t":"2018-11-15T11:01:47","v":44.9},{"t":"2018-11-15T11:01:52","v":44.8},{"t":"2018-11-15T11:01:56","v":46.9},{"t":"2018-11-15T11:02:02","v":57.0},{"t":"2018-11-15T11:02:05","v":44.4},{"t":"2018-11-15T11:02:08","v":45.4},{"t":"2018-11-15T11:02:11","v":44.5},{"t":"2018-11-15T11:02:14","v":48.5},{"t":"2018-11-15T11:02:18","v":44.7},{"t":"2018-11-15T11:02:21","v":44.1},{"t":"2018-11-15T11:02:25","v":44.9},{"t":"2018-11-15T11:02:28","v":44.7},{"t":"2018-11-15T11:02:33","v":53.7},{"t":"2018-11-15T11:02:37","v":44.8},{"t":"2018-11-15T11:02:40","v":47.0},{"t":"2018-11-15T11:02:43","v":44.9},{"t":"2018-11-15T11:02:46","v":47.4},{"t":"2018-11-15T11:02:49","v":44.8},{"t":"2018-11-15T11:02:53","v":47.0},{"t":"2018-11-15T11:02:56","v":45.8},{"t":"2018-11-15T11:03:00","v":51.4},{"t":"2018-11-15T11:03:03","v":55.3},{"t":"2018-11-15T11:03:07","v":47.4},{"t":"2018-11-15T11:03:10","v":49.9},{"t":"2018-11-15T11:03:13","v":52.6},{"t":"2018-11-15T11:03:17","v":52.7},{"t":"2018-11-15T11:03:21","v":61.1},{"t":"2018-11-15T11:03:25","v":46.7},{"t":"2018-11-15T11:03:29","v":50.7},{"t":"2018-11-15T11:03:33","v":55.0},{"t":"2018-11-15T11:03:36","v":50.6},{"t":"2018-11-15T11:03:41","v":46.7},{"t":"2018-11-15T11:03:46","v":54.9},{"t":"2018-11-15T11:03:50","v":44.9},{"t":"2018-11-15T11:03:54","v":52.1},{"t":"2018-11-15T11:03:57","v":45.4},{"t":"2018-11-15T11:04:01","v":47.6},{"t":"2018-11-15T11:04:05","v":47.4},{"t":"2018-11-15T11:04:09","v":55.0},{"t":"2018-11-15T11:04:13","v":50.6},{"t":"2018-11-15T11:04:16","v":51.9},{"t":"2018-11-15T11:04:19","v":49.0},{"t":"2018-11-15T11:04:23","v":50.3},{"t":"2018-11-15T11:04:27","v":46.7},{"t":"2018-11-15T11:04:30","v":45.4},{"t":"2018-11-15T11:04:33","v":44.9},{"t":"2018-11-15T11:04:37","v":44.9},{"t":"2018-11-15T11:04:40","v":46.1},{"t":"2018-11-15T11:04:45","v":49.6},{"t":"2018-11-15T11:04:48","v":51.2},{"t":"2018-11-15T11:04:51","v":59.1},{"t":"2018-11-15T11:04:55","v":51.9},{"t":"2018-11-15T11:04:58","v":56.3},{"t":"2018-11-15T11:05:02","v":56.5},{"t":"2018-11-15T11:05:05","v":40.2},{"t":"2018-11-15T11:05:07","v":37.8},{"t":"2018-11-15T11:05:10","v":42.1},{"t":"2018-11-15T11:05:13","v":39.5},{"t":"2018-11-15T11:05:17","v":44.3},{"t":"2018-11-15T11:05:20","v":40.0},{"t":"2018-11-15T11:05:23","v":42.9},{"t":"2018-11-15T11:05:26","v":52.6},{"t":"2018-11-15T11:05:30","v":43.7},{"t":"2018-11-15T11:05:34","v":50.6},{"t":"2018-11-15T11:05:38","v":49.5},{"t":"2018-11-15T11:05:42","v":40.3},{"t":"2018-11-15T11:05:46","v":42.8},{"t":"2018-11-15T11:05:51","v":42.2},{"t":"2018-11-15T11:05:55","v":49.9},{"t":"2018-11-15T11:06:00","v":48.3},{"t":"2018-11-15T11:06:04","v":41.8},{"t":"2018-11-15T11:06:08","v":39.2},{"t":"2018-11-15T11:06:12","v":39.1},{"t":"2018-11-15T11:06:15","v":38.0},{"t":"2018-11-15T11:06:18","v":45.0},
{"t":"2018-11-15T11:06:22","v":37.5},{"t":"2018-11-15T11:06:25","v":40.1},{"t":"2018-11-15T11:06:29","v":38.0},{"t":"2018-11-15T11:06:33","v":40.1},{"t":"2018-11-15T11:06:37","v":37.5},{"t":"2018-11-15T11:06:41","v":37.5},{"t":"2018-11-15T11:06:44","v":40.8},{"t":"2018-11-15T11:06:48","v":50.5},{"t":"2018-11-15T11:06:53","v":52.3},{"t":"2018-11-15T11:06:56","v":62.6},{"t":"2018-11-15T11:07:00","v":43.4},{"t":"2018-11-15T11:07:04","v":47.9},{"t":"2018-11-15T11:07:07","v":51.8},{"t":"2018-11-15T11:07:10","v":52.4},{"t":"2018-11-15T11:07:13","v":46.1},{"t":"2018-11-15T11:07:18","v":39.7},{"t":"2018-11-15T11:07:22","v":43.2},{"t":"2018-11-15T11:07:27","v":49.6},{"t":"2018-11-15T11:07:31","v":45.9},{"t":"2018-11-15T11:07:35","v":43.3},{"t":"2018-11-15T11:07:41","v":55.3},{"t":"2018-11-15T11:07:44","v":42.9},{"t":"2018-11-15T11:07:47","v":45.5},{"t":"2018-11-15T11:07:49","v":42.3},{"t":"2018-11-15T11:07:52","v":45.4},{"t":"2018-11-15T11:07:54","v":41.6},{"t":"2018-11-15T11:07:59","v":41.3},{"t":"2018-11-15T11:08:03","v":48.7},{"t":"2018-11-15T11:08:06","v":52.7},{"t":"2018-11-15T11:08:10","v":40.3},{"t":"2018-11-15T11:08:14","v":43.6},{"t":"2018-11-15T11:08:18","v":46.7},{"t":"2018-11-15T11:08:22","v":53.7},{"t":"2018-11-15T11:08:26","v":43.9},{"t":"2018-11-15T11:08:30","v":45.4},{"t":"2018-11-15T11:08:35","v":44.7},{"t":"2018-11-15T11:08:39","v":43.6},{"t":"2018-11-15T11:08:43","v":43.4},{"t":"2018-11-15T11:08:46","v":46.4},{"t":"2018-11-15T11:08:50","v":50.2},{"t":"2018-11-15T11:08:54","v":46.4},{"t":"2018-11-15T11:08:58","v":43.7},{"t":"2018-11-15T11:09:03","v":45.8},{"t":"2018-11-15T11:09:09","v":53.7},{"t":"2018-11-15T11:09:15","v":43.0},{"t":"2018-11-15T11:09:19","v":43.7},{"t":"2018-11-15T11:09:23","v":45.6},{"t":"2018-11-15T11:09:27","v":44.8},{"t":"2018-11-15T11:09:30","v":49.5},{"t":"2018-11-15T11:09:34","v":44.7},{"t":"2018-11-15T11:09:38","v":43.2},{"t":"2018-11-15T11:09:42","v":47.2},{"t":"2018-11-15T11:09:46","v":48.6},{"t":"2018-11-15T11:09:50","v":52.7},{"t":"2018-11-15T11:09:53","v":52.1},{"t":"2018-11-15T11:09:57","v":45.8},{"t":"2018-11-15T11:10:00","v":51.2},{"t":"2018-11-15T11:10:03","v":49.4},{"t":"2018-11-15T11:10:06","v":52.2},{"t":"2018-11-15T11:10:10","v":45.3},{"t":"2018-11-15T11:10:14","v":46.4},{"t":"2018-11-15T11:10:17","v":47.6},{"t":"2018-11-15T11:10:21","v":45.8},{"t":"2018-11-15T11:10:25","v":56.4},{"t":"2018-11-15T11:10:29","v":52.0},{"t":"2018-11-15T11:10:33","v":46.0},{"t":"2018-11-15T11:10:37","v":48.1},{"t":"2018-11-15T11:10:41","v":51.8},{"t":"2018-11-15T11:10:45","v":52.3},{"t":"2018-11-15T11:10:48","v":46.9},{"t":"2018-11-15T11:10:52","v":53.3},{"t":"2018-11-15T11:10:56","v":45.8},{"t":"2018-11-15T11:11:00","v":43.0},{"t":"2018-11-15T11:11:04","v":67.8},{"t":"2018-11-15T11:11:07","v":64.4},{"t":"2018-11-15T11:11:09","v":66.1},{"t":"2018-11-15T11:11:16","v":53.1},{"t":"2018-11-15T11:11:20","v":44.7},{"t":"2018-11-15T11:11:26","v":39.2},{"t":"2018-11-15T11:11:31","v":48.6},{"t":"2018-11-15T11:11:35","v":38.0},{"t":"2018-11-15T11:11:38","v":39.9},{"t":"2018-11-15T11:11:42","v":38.0},{"t":"2018-11-15T11:11:46","v":39.2},{"t":"2018-11-15T11:11:51","v":39.0},{"t":"2018-11-15T11:11:56","v":39.5},{"t":"2018-11-15T11:12:00","v":40.2},{"t":"2018-11-15T11:12:04","v":51.4},{"t":"2018-11-15T11:12:08","v":45.2},{"t":"2018-11-15T11:12:11","v":41.5},{"t":"2018-11-15T11:12:15","v":46.5},{"t":"2018-11-15T11:12:19","v":51.0},
{"t":"2018-11-15T11:12:22","v":45.4},{"t":"2018-11-15T11:12:25","v":53.9},{"t":"2018-11-15T11:12:29","v":43.2},{"t":"2018-11-15T11:12:34","v":40.0},{"t":"2018-11-15T11:12:37","v":46.4},{"t":"2018-11-15T11:12:41","v":53.1},{"t":"2018-11-15T11:12:45","v":49.7},{"t":"2018-11-15T11:12:49","v":44.5},{"t":"2018-11-15T11:12:54","v":48.9},{"t":"2018-11-15T11:12:58","v":51.8},{"t":"2018-11-15T11:13:02","v":43.0},{"t":"2018-11-15T11:13:05","v":40.5},{"t":"2018-11-15T11:13:08","v":42.9},{"t":"2018-11-15T11:13:11","v":38.7},{"t":"2018-11-15T11:13:15","v":40.2},{"t":"2018-11-15T11:13:18","v":39.6},{"t":"2018-11-15T11:13:21","v":42.3},{"t":"2018-11-15T11:13:25","v":40.5},{"t":"2018-11-15T11:13:29","v":43.7},{"t":"2018-11-15T11:13:32","v":45.5},{"t":"2018-11-15T11:13:35","v":39.9},{"t":"2018-11-15T11:13:38","v":45.2},{"t":"2018-11-15T11:13:42","v":42.9},{"t":"2018-11-15T11:13:46","v":51.2},{"t":"2018-11-15T11:13:50","v":46.1},{"t":"2018-11-15T11:13:53","v":53.9},{"t":"2018-11-15T11:13:58","v":45.3},{"t":"2018-11-15T11:14:02","v":51.4},{"t":"2018-11-15T11:14:06","v":56.5},{"t":"2018-11-15T11:14:10","v":50.5},{"t":"2018-11-15T11:14:14","v":47.3},{"t":"2018-11-15T11:14:17","v":49.2},{"t":"2018-11-15T11:14:21","v":50.4},{"t":"2018-11-15T11:14:23","v":46.3},{"t":"2018-11-15T11:14:27","v":42.8},{"t":"2018-11-15T11:14:32","v":47.5},{"t":"2018-11-15T11:14:36","v":44.9},{"t":"2018-11-15T11:14:40","v":48.9},{"t":"2018-11-15T11:14:44","v":44.4},{"t":"2018-11-15T11:14:48","v":39.7},{"t":"2018-11-15T11:14:52","v":45.4},{"t":"2018-11-15T11:14:55","v":40.0},{"t":"2018-11-15T11:14:59","v":43.2},{"t":"2018-11-15T11:15:04","v":46.4},{"t":"2018-11-15T11:15:08","v":40.5},{"t":"2018-11-15T11:15:11","v":43.9},{"t":"2018-11-15T11:15:15","v":45.4},{"t":"2018-11-15T11:15:18","v":44.2},{"t":"2018-11-15T11:15:22","v":55.4},{"t":"2018-11-15T11:15:26","v":48.9},{"t":"2018-11-15T11:15:30","v":45.2},{"t":"2018-11-15T11:15:34","v":43.8},{"t":"2018-11-15T11:15:39","v":42.8},{"t":"2018-11-15T11:15:43","v":45.2},{"t":"2018-11-15T11:15:47","v":49.9},{"t":"2018-11-15T11:15:50","v":52.9},{"t":"2018-11-15T11:15:54","v":47.6},{"t":"2018-11-15T11:15:57","v":48.6},{"t":"2018-11-15T11:16:00","v":43.7},{"t":"2018-11-15T11:16:03","v":47.2},{"t":"2018-11-15T11:16:07","v":44.8},{"t":"2018-11-15T11:16:11","v":48.3},{"t":"2018-11-15T11:16:15","v":45.2},{"t":"2018-11-15T11:16:18","v":44.7},{"t":"2018-11-15T11:16:21","v":48.1},{"t":"2018-11-15T11:16:25","v":55.0},{"t":"2018-11-15T11:16:28","v":46.9},{"t":"2018-11-15T11:16:32","v":60.6},{"t":"2018-11-15T11:16:36","v":49.6},{"t":"2018-11-15T11:16:39","v":56.1},{"t":"2018-11-15T11:16:43","v":47.6},{"t":"2018-11-15T11:16:47","v":42.2},{"t":"2018-11-15T11:16:51","v":49.6},{"t":"2018-11-15T11:16:55","v":47.6},{"t":"2018-11-15T11:16:59","v":49.4},{"t":"2018-11-15T11:17:02","v":44.3},{"t":"2018-11-15T11:17:06","v":48.0},{"t":"2018-11-15T11:17:09","v":44.1},{"t":"2018-11-15T11:17:13","v":41.2},{"t":"2018-11-15T11:17:18","v":49.4},{"t":"2018-11-15T11:17:22","v":44.5},{"t":"2018-11-15T11:17:26","v":48.3},{"t":"2018-11-15T11:17:30","v":52.0},{"t":"2018-11-15T11:17:34","v":48.3},{"t":"2018-11-15T11:17:38","v":51.8},{"t":"2018-11-15T11:17:42","v":45.8},{"t":"2018-11-15T11:17:46","v":47.4},{"t":"2018-11-15T11:17:50","v":44.9},{"t":"2018-11-15T11:17:54","v":48.3},{"t":"2018-11-15T11:17:57","v":51.8},{"t":"2018-11-15T11:18:01","v":42.1},{"t":"2018-11-15T11:18:05","v":51.1},{"t":"2018-11-15T11:18:09","v":44.2},{"t":"2018-11-15T11:18:13","v":48.0},{"t":"2018-11-15T11:18:16","v":48.1}
]},
"layer": [
{"data": {"values": [{"k": 1}]},
 "mark": {"type": "rect", "fill": "#ffffff", "fillOpacity": 0, "stroke": "#999999", "strokeWidth": 1, "clip": false},
 "encoding": {
  "x": {"datum": {"year": 2018, "month": 11, "date": 15, "hours": 10, "minutes": 14, "seconds": 30}, "type": "temporal"},
  "x2": {"datum": {"year": 2018, "month": 11, "date": 15, "hours": 11, "minutes": 20, "seconds": 17}},
  "y": {"datum": 83.75, "type": "quantitative"},
  "y2": {"datum": 20}}},
{"data": {"values": [{"k": 1}]},
 "mark": {"type": "rect", "fill": "#ffffff", "stroke": "#000000", "strokeWidth": 1, "clip": false},
 "encoding": {
  "y": {"datum": 78.85, "type": "quantitative"},
  "y2": {"datum": 75.3}}},
{"data": {"values": [{"label": "SCUOLA PRIMARIA DON RINALDO BERETTA in Calcoli"}]},
 "mark": {"type": "text", "fontSize": 21, "font": "Liberation Sans", "color": "#000000", "align": "center", "baseline": "alphabetic", "clip": false},
 "encoding": {
  "text": {"field": "label", "type": "nominal"},
  "x": {"datum": {"year": 2018, "month": 11, "date": 15, "hours": 10, "minutes": 47, "seconds": 39}, "type": "temporal"},
  "y": {"datum": 82.06, "type": "quantitative"}}},
{"mark": {"type": "line", "strokeWidth": 1, "interpolate": "linear"},
 "encoding": {
  "x": {"field": "t", "type": "temporal",
   "scale": {"domain": [{"year": 2018, "month": 11, "date": 15, "hours": 10, "minutes": 18, "seconds": 16}, {"year": 2018, "month": 11, "date": 15, "hours": 11, "minutes": 18, "seconds": 16}], "nice": false},
   "axis": {"title": "Cursore: 15/11/2018 10:48:14 - 10:48:15 \u00a0LAeq=45,7 dB", "format": "%H:%M:%S",
    "values": [{"year": 2018, "month": 11, "date": 15, "hours": 10, "minutes": 20}, {"year": 2018, "month": 11, "date": 15, "hours": 10, "minutes": 30}, {"year": 2018, "month": 11, "date": 15, "hours": 10, "minutes": 40}, {"year": 2018, "month": 11, "date": 15, "hours": 10, "minutes": 50}, {"year": 2018, "month": 11, "date": 15, "hours": 11, "minutes": 0}, {"year": 2018, "month": 11, "date": 15, "hours": 11, "minutes": 10}],
    "grid": true, "gridDash": [9, 6], "gridColor": "#333333", "gridWidth": 1, "domain": false,
    "tickSize": 9, "tickColor": "#000000", "tickWidth": 1,
    "labelFontSize": 21, "labelPadding": 2, "labelColor": "#000000", "labelFlush": false, "labelOverlap": false, "labelFont": "Liberation Sans",
    "titleX": -71, "titleY": 86, "titleAlign": "left", "titleAnchor": "start", "titleBaseline": "alphabetic",
    "titleFontSize": 21, "titleFontWeight": "normal", "titleColor": "#000000", "titleFont": "Liberation Sans"}},
  "y": {"field": "v", "type": "quantitative",
   "scale": {"domain": [34, 74], "nice": false, "zero": false},
   "axis": {"title": "dB", "values": [40, 50, 60, 70],
    "grid": true, "gridDash": [9, 6], "gridColor": "#333333", "gridWidth": 1, "domain": false,
    "tickSize": 9, "tickColor": "#000000", "tickWidth": 1,
    "labelFontSize": 21, "labelPadding": 4, "labelColor": "#000000", "labelFont": "Liberation Sans",
    "titleAngle": 0, "titleX": -39, "titleY": -4, "titleAlign": "left", "titleBaseline": "alphabetic",
    "titleFontSize": 21, "titleFontWeight": "normal", "titleColor": "#000000", "titleFont": "Liberation Sans"}},
  "color": {"datum": "LAeq", "type": "nominal", "scale": {"range": ["#0000ff"]},
   "legend": {"title": null, "orient": "none", "legendX": 0, "legendY": 562, "padding": 0,
    "symbolType": "stroke", "symbolSize": 3136, "symbolStrokeWidth": 1, "symbolStrokeColor": "#0000ff",
    "labelFontSize": 21, "labelOffset": 8, "labelColor": "#000000", "labelFont": "Liberation Sans"}}}},
{"data": {"values": [{"t": "2018-11-15T10:48:15"}]},
 "mark": {"type": "rule", "color": "#ff4d4d", "strokeWidth": 1},
 "encoding": {"x": {"field": "t", "type": "temporal"}}}
]
}
